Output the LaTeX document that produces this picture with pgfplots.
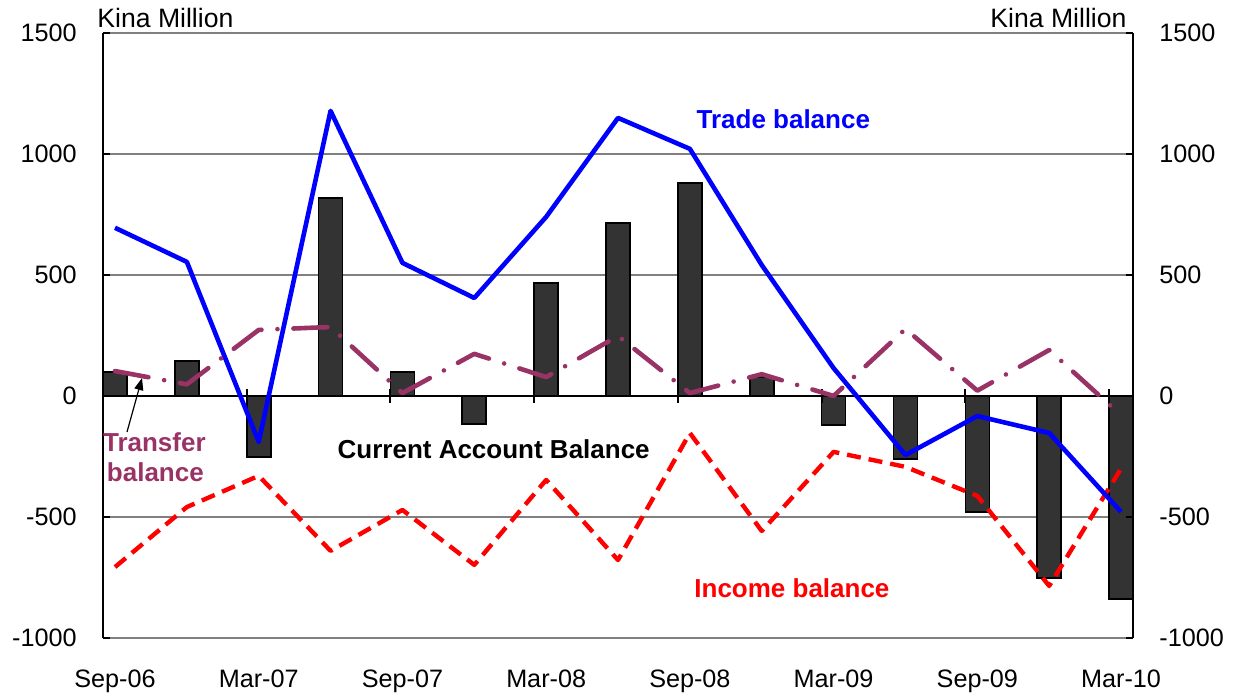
\documentclass[border=0pt]{standalone}
\usepackage{fontspec}
\setmainfont{Liberation Sans}
\usepackage{pgfplots}
\pgfplotsset{compat=1.18}
\usepackage{pgfplotstable}
\usetikzlibrary{arrows.meta}

\definecolor{tradeblue}{RGB}{0,0,255}
\definecolor{incomered}{RGB}{255,0,0}
\definecolor{transferpurple}{RGB}{153,51,102}
\definecolor{barfill}{RGB}{51,51,51}
\definecolor{gridgray}{RGB}{128,128,128}

% quarters Sep-06 ... Mar-10 at 0..14
\pgfplotstableread{
x  cab   trade income transfer
0  100   695   -707   103
1  145   554   -459   48
2  -252  -190  -330   273
3  818   1178  -640   285
4  98    550   -471   12
5  -116  405   -698   174
6  467   740   -347   78
7  715   1149  -678   248
8  880   1021  -153   12
9  78    541   -558   90
10 -120  115   -231   0
11 -260  -244  -293   277
12 -479  -83   -413   22
13 -752  -153  -785   190
14 -839  -479  -300   -80
}\bop

\newcommand{\tickfont}{\fontsize{12.6bp}{15bp}\selectfont}
\newcommand{\unitfont}{\fontsize{13.3bp}{15bp}\selectfont}
\newcommand{\lblfont}{\bfseries\fontsize{13bp}{15bp}\selectfont}

\begin{document}
\begin{tikzpicture}
\begin{axis}[
  scale only axis, width=515bp, height=302.5bp,
  xmin=-0.16667, xmax=14.16667, ymin=-1000, ymax=1500,
  separate axis lines,
  x axis line style={draw=none},
  y axis line style={black, line width=1bp},
  ytick={-1000,-500,0,500,1000,1500},
  ytick pos=left, yticklabel pos=left,
  ymajorgrids, grid style={gridgray, line width=1bp},
  extra y ticks={0}, extra y tick labels={},
  extra y tick style={grid style={black, line width=1bp}},
  tick align=inside, major tick length=3.5bp,
  ytick style={black, line width=1bp},
  xtick={0,2,...,14},
  xticklabels={Sep-06,Mar-07,Sep-07,Mar-08,Sep-08,Mar-09,Sep-09,Mar-10},
  xtick style={draw=none},
  ticklabel style={font=\tickfont, inner sep=0pt},
  xticklabel shift=16bp,
  yticklabel shift=13bp,
  /pgf/number format/assume math mode=true,
  /pgf/number format/1000 sep={},
  clip=false,
]
% bounding box with the reference's margins
\path (rel axis cs:-0.1,-0.0959) rectangle (rel axis cs:1.099,1.0545);

% current account balance bars
\addplot[ybar, bar width=12bp, fill=barfill, draw=black, line width=0.8bp] table[x=x, y=cab]{\bop};

% category ticks on the zero line
\draw[black, line width=1bp] (axis cs:1.83333,-28) -- (axis cs:1.83333,28);
\draw[black, line width=1bp] (axis cs:3.83333,-28) -- (axis cs:3.83333,28);
\draw[black, line width=1bp] (axis cs:5.83333,-28) -- (axis cs:5.83333,28);
\draw[black, line width=1bp] (axis cs:7.83333,-28) -- (axis cs:7.83333,28);
\draw[black, line width=1bp] (axis cs:9.83333,-28) -- (axis cs:9.83333,28);
\draw[black, line width=1bp] (axis cs:11.83333,-28) -- (axis cs:11.83333,28);
\draw[black, line width=1bp] (axis cs:13.83333,-28) -- (axis cs:13.83333,28);

% lines
\addplot[incomered, line width=2.2bp, line join=round, dash pattern=on 7bp off 4bp] table[x=x, y=income]{\bop};
\addplot[tradeblue, line width=2.3bp, line join=round] table[x=x, y=trade]{\bop};
\addplot[transferpurple, line width=2.3bp, line cap=round, line join=round,
  dash pattern=on 17bp off 8bp on 0bp off 8bp] table[x=x, y=transfer]{\bop};

% labels
\node[font=\unitfont, inner sep=0pt, anchor=base west] at (rel axis cs:-0.0058,1.0083) {Kina Million};
\node[font=\unitfont, inner sep=0pt, anchor=base east] at (rel axis cs:0.994,1.0083) {Kina Million};
\node[font=\lblfont, text=tradeblue, anchor=base] at (axis cs:9.30,1107) {Trade balance};
\node[font=\lblfont, text=black, anchor=base] at (axis cs:5.27,-260) {Current Account Balance};
\node[font=\lblfont, text=incomered, anchor=base] at (axis cs:9.42,-831) {Income balance};
\node[font=\lblfont, text=transferpurple, anchor=base] at (axis cs:0.548,-231) {Transfer};
\node[font=\lblfont, text=transferpurple, anchor=base] at (axis cs:0.562,-355) {balance};
\draw[black, line width=0.6bp, -{Triangle[length=6bp, width=4.5bp]}] (axis cs:0.167,-149) -- (axis cs:0.376,74);
\end{axis}

% right-hand axis labels
\begin{axis}[
  scale only axis, width=515bp, height=302.5bp,
  xmin=-0.16667, xmax=14.16667, ymin=-1000, ymax=1500,
  axis x line=none, axis y line*=right,
  y axis line style={black, line width=1bp},
  ytick={-1000,-500,0,500,1000,1500},
  tick align=inside, major tick length=3.5bp,
  ytick style={black, line width=1bp},
  yticklabel style={font=\tickfont, inner sep=0pt, anchor=west},
  yticklabel shift=13bp,
  /pgf/number format/assume math mode=true,
  /pgf/number format/1000 sep={},
]
\addplot[draw=none] coordinates {(0,0)};
\end{axis}
\end{tikzpicture}
\end{document}
